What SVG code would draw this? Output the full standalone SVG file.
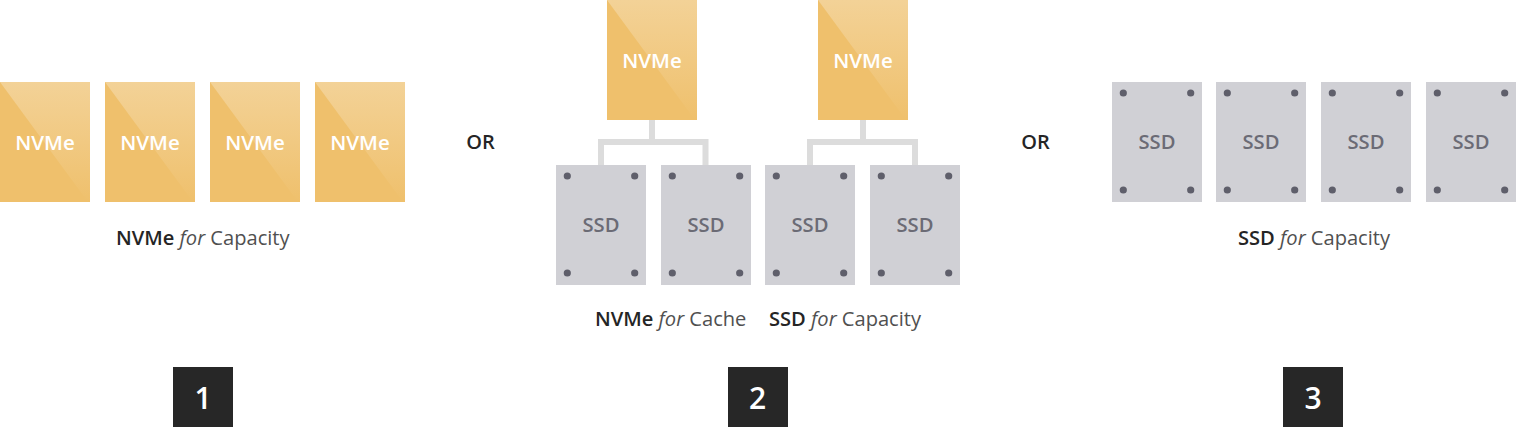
<svg xmlns="http://www.w3.org/2000/svg" xmlns:xlink="http://www.w3.org/1999/xlink" width="1516" height="435" viewBox="0 0 1516 435">
<style>
text{font-family:"Open Sans","Noto Sans","Liberation Sans",sans-serif}
.base{fill:#efc06c}
.sheen{fill:url(#sheen)}
.nl{fill:#fff;font-size:20.500px;font-weight:600;text-anchor:middle}
.sbody{fill:#d0d0d5}
.dot{fill:#5f5f6b}
.sl{fill:#6b6b75;font-size:20.200px;font-weight:600;text-anchor:middle}
.cap{fill:#505050;font-size:20.100px}
.cap .b{fill:#252525;font-weight:600}
.cap .i{font-style:italic}
.or{fill:#252525;font-size:20px;font-weight:600;text-anchor:middle}
.badge{fill:#272727}
.bl{fill:#fff;font-size:30px;font-weight:600;text-anchor:middle}
.conn{fill:none;stroke:#dcdcdc;stroke-width:6}
</style>
<defs>
<linearGradient id="sheen" x1="0" y1="0" x2="0" y2="1">
<stop offset="0" stop-color="#f3d297"/>
<stop offset="1" stop-color="#efc06c"/>
</linearGradient>
<g id="nvme">
<rect class="base" width="90" height="120"/>
<path class="sheen" d="M0 0H90V120H88Z"/>
<text class="nl" x="45" y="68">NVMe</text>
</g>
<g id="ssd">
<rect class="sbody" width="90" height="120"/>
<circle class="dot" cx="11.3" cy="11" r="3.6"/>
<circle class="dot" cx="78.7" cy="11" r="3.6"/>
<circle class="dot" cx="11.3" cy="108" r="3.6"/>
<circle class="dot" cx="78.7" cy="108" r="3.6"/>
<text class="sl" x="45" y="67">SSD</text>
</g>
</defs>
<g id="connectors">
<path class="conn" d="M652 120V142M601 165V142H705.500V165"/>
<path class="conn" d="M863 120V142M810 165V142H915V165"/>
</g>
<g id="n1"><use xlink:href="#nvme" href="#nvme" x="0" y="82"/></g>
<g id="n2"><use xlink:href="#nvme" href="#nvme" x="105" y="82"/></g>
<g id="n3"><use xlink:href="#nvme" href="#nvme" x="210" y="82"/></g>
<g id="n4"><use xlink:href="#nvme" href="#nvme" x="315" y="82"/></g>
<g id="n5"><use xlink:href="#nvme" href="#nvme" x="607" y="0"/></g>
<g id="n6"><use xlink:href="#nvme" href="#nvme" x="818" y="0"/></g>
<g id="s1"><use xlink:href="#ssd" href="#ssd" x="556" y="165"/></g>
<g id="s2"><use xlink:href="#ssd" href="#ssd" x="661" y="165"/></g>
<g id="s3"><use xlink:href="#ssd" href="#ssd" x="765" y="165"/></g>
<g id="s4"><use xlink:href="#ssd" href="#ssd" x="870" y="165"/></g>
<g id="s5"><use xlink:href="#ssd" href="#ssd" x="1112" y="82"/></g>
<g id="s6"><use xlink:href="#ssd" href="#ssd" x="1216" y="82"/></g>
<g id="s7"><use xlink:href="#ssd" href="#ssd" x="1321" y="82"/></g>
<g id="s8"><use xlink:href="#ssd" href="#ssd" x="1426" y="82"/></g>
<text class="or" x="480.500" y="149">OR</text>
<text class="or" x="1035.500" y="149">OR</text>
<text class="cap" x="116" y="245"><tspan class="b">NVMe</tspan> <tspan class="i">for</tspan> Capacity</text>
<text class="cap" x="595" y="326"><tspan class="b">NVMe</tspan> <tspan class="i">for</tspan> Cache</text>
<text class="cap" x="769" y="326"><tspan class="b">SSD</tspan> <tspan class="i">for</tspan> Capacity</text>
<text class="cap" x="1238" y="245"><tspan class="b">SSD</tspan> <tspan class="i">for</tspan> Capacity</text>
<g id="b1"><rect class="badge" x="173" y="367" width="60" height="60"/><text class="bl" x="203" y="409">1</text></g>
<g id="b2"><rect class="badge" x="728" y="367" width="60" height="60"/><text class="bl" x="757.500" y="409">2</text></g>
<g id="b3"><rect class="badge" x="1283" y="367" width="60" height="60"/><text class="bl" x="1313" y="409">3</text></g>
</svg>
